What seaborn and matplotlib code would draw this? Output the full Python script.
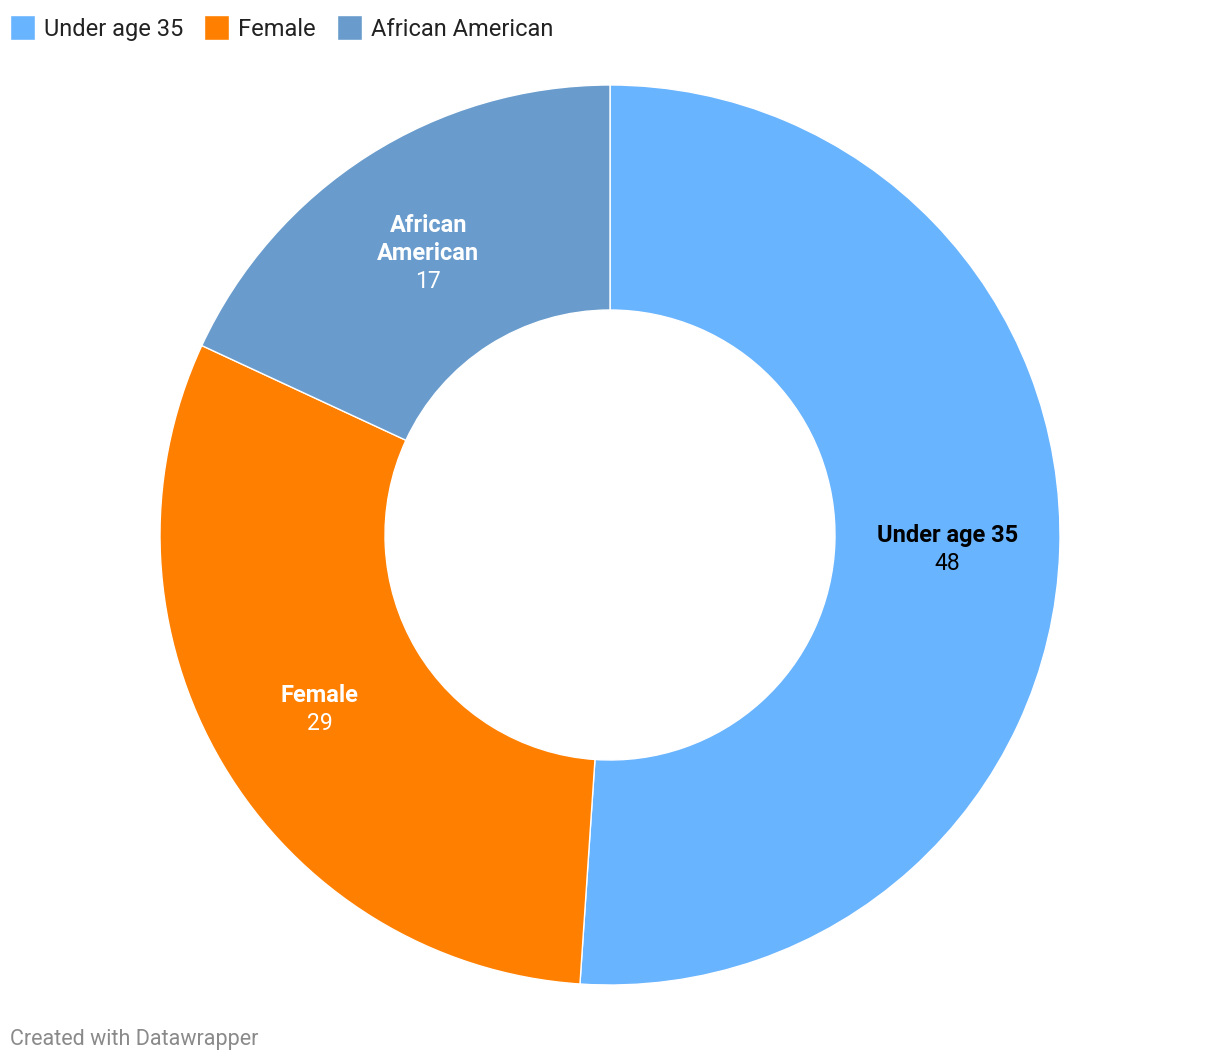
import numpy as np
import matplotlib
matplotlib.use("Agg")
import matplotlib.pyplot as plt
import seaborn as sns

categories = ["Under age 35", "Female", "African American"]
values = [48, 29, 17]
colors = ["#69b4ff", "#ff7f00", "#699ccd"]
label_colors = ["#000000", "#ffffff", "#ffffff"]
label_texts = ["Under age 35", "Female", "African\nAmerican"]

sns.set_theme(style="white")
plt.rcParams['font.family'] = ['Roboto', 'DejaVu Sans']

W, H = 1220, 1062
fig = plt.figure(figsize=(W / 100, H / 100), dpi=100)
cx, cy, R = 610, 535, 450
ax = fig.add_axes([(cx - R) / W, (H - cy - R) / H, 2 * R / W, 2 * R / H])

palette = sns.color_palette(colors)
wedges, _ = ax.pie(values, colors=palette, startangle=90, counterclock=False,
                   radius=1.0, wedgeprops=dict(width=0.5, edgecolor="white", linewidth=1))
ax.set_xlim(-1, 1)
ax.set_ylim(-1, 1)
ax.set_aspect("equal")
ax.axis("off")

pitch = 28 * 0.72  # line pitch in points
shift = -3 * 0.72
total = sum(values)
start = 90.0
for v, lab, lc in zip(values, label_texts, label_colors):
    span = 360.0 * v / total
    mid = np.deg2rad(start - span / 2)
    start -= span
    x, y = 0.75 * np.cos(mid), 0.75 * np.sin(mid)
    lines = lab.split("\n") + [str(v)]
    n = len(lines)
    for i, line in enumerate(lines):
        off = -(i - (n - 1) / 2) * pitch + shift
        bold = i < n - 1
        ax.annotate(line, (x, y), xytext=(0, off), textcoords="offset points",
                    ha="center", va="center", fontsize=17 if bold else 16.5,
                    fontweight="bold" if bold else "normal", color=lc)

leg = fig.legend(wedges, categories, loc="center left", bbox_to_anchor=(10 / W, 1 - 28 / H),
                 ncol=3, frameon=False, fontsize=17, handlelength=1.06, handleheight=1.2,
                 handletextpad=0.38, columnspacing=0.89, borderpad=0, borderaxespad=0)
for t in leg.get_texts():
    t.set_color("#222222")

fig.text(10 / W, 1 - 1039 / H, "Created with Datawrapper", fontsize=15.5, color="#8a8a8a",
         ha="left", va="center")

fig.savefig("out.png", dpi=100)
